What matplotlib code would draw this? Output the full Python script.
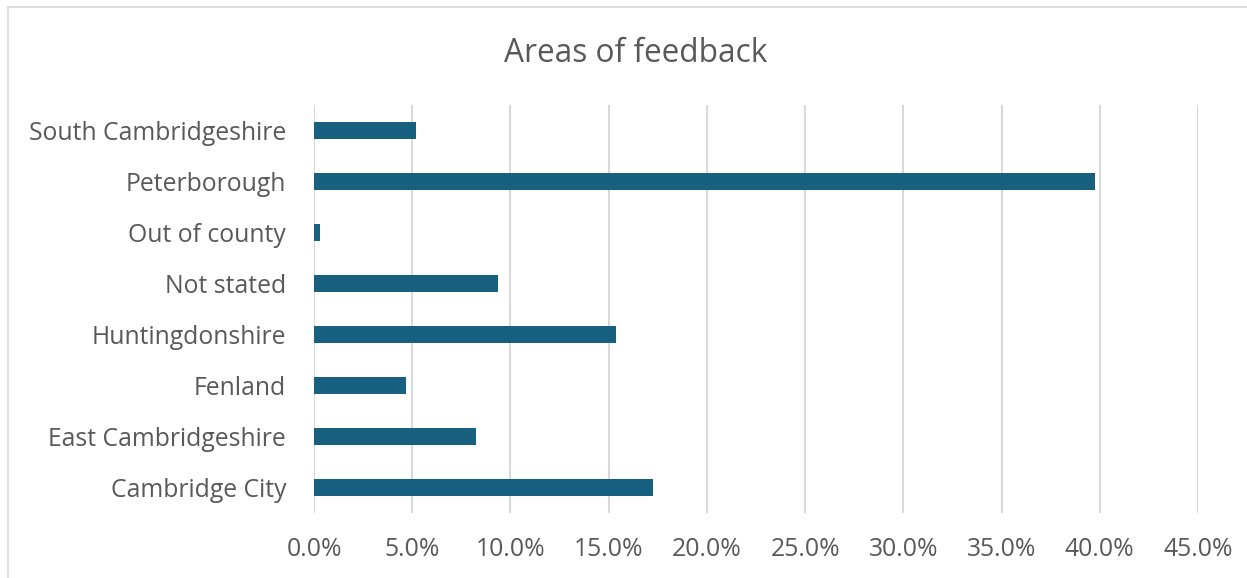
import matplotlib.pyplot as plt
from matplotlib.lines import Line2D
from matplotlib.ticker import PercentFormatter

areas = ["Cambridge City", "East Cambridgeshire", "Fenland", "Huntingdonshire",
         "Not stated", "Out of county", "Peterborough", "South Cambridgeshire"]
shares = [17.28, 8.23, 4.68, 15.38, 9.35, 0.31, 39.75, 5.21]
ticks = [0, 5, 10, 15, 20, 25, 30, 35, 40, 45]

BAR = "#17607f"
TEXT = "#595959"
GRID = "#d9d9d9"

plt.rcParams["font.family"] = ["Open Sans", "DejaVu Sans"]

fig = plt.figure(figsize=(12.47, 5.78), dpi=100, facecolor="white")
ax = fig.add_axes([314 / 1247, 1 - 513 / 578, (1198 - 314) / 1247, (513 - 105) / 578])

ax.barh(range(len(areas)), shares, height=0.35, color=BAR, zorder=3)

ax.set_xlim(0, 45)
ax.set_ylim(-0.5, len(areas) - 0.5)
ax.set_xticks(ticks)
ax.xaxis.set_major_formatter(PercentFormatter(decimals=1))
ax.set_yticks(range(len(areas)))
ax.set_yticklabels(areas)
ax.tick_params(axis="both", length=0, labelsize=17.8, colors=TEXT)
ax.tick_params(axis="y", pad=20)
ax.tick_params(axis="x", pad=17.5)
ax.grid(axis="x", color=GRID, linewidth=1.5, zorder=0)
for s in ax.spines.values():
    s.set_visible(False)

fig.text(636 / 1247, 1 - 53 / 578, "Areas of feedback", ha="center", va="center",
         fontsize=22.8, color=TEXT)

# chart frame (left and top edges visible)
fig.add_artist(Line2D([8 / 1247, 8 / 1247], [0, 1 - 7 / 578], transform=fig.transFigure,
                      color=GRID, linewidth=1.2))
fig.add_artist(Line2D([8 / 1247, 1], [1 - 7 / 578, 1 - 7 / 578], transform=fig.transFigure,
                      color=GRID, linewidth=1.2))

fig.savefig("out.png", dpi=100, facecolor="white")
